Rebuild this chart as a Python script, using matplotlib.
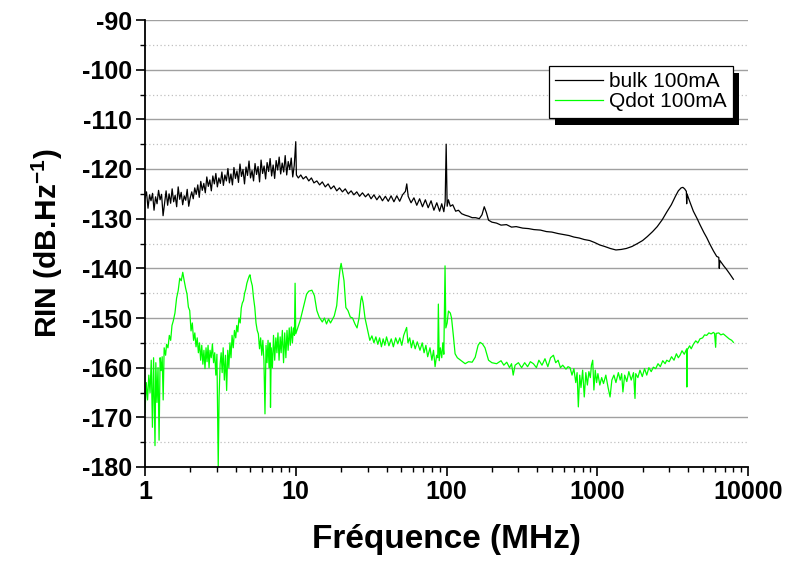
import matplotlib
matplotlib.use("Agg")
import matplotlib.pyplot as plt
from matplotlib.patches import Rectangle
from matplotlib.ticker import FixedLocator, FixedFormatter, MultipleLocator, LogLocator, NullFormatter

plt.rcParams['font.family'] = ['Liberation Sans', 'DejaVu Sans']
plt.rcParams['axes.unicode_minus'] = False
plt.rcParams['mathtext.fontset'] = 'custom'
plt.rcParams['mathtext.rm'] = 'Liberation Sans:bold'
plt.rcParams['mathtext.bf'] = 'Liberation Sans:bold'
plt.rcParams['mathtext.it'] = 'Liberation Sans:bold'
plt.rcParams['mathtext.default'] = 'bf'

# ---------------- data ----------------
bulk_f = [1.000, 1.023, 1.047, 1.072, 1.096, 1.122, 1.148, 1.175, 1.202, 1.230,
          1.259, 1.288, 1.318, 1.349, 1.380, 1.413, 1.445, 1.479, 1.514, 1.549,
          1.585, 1.622, 1.660, 1.698, 1.738, 1.778, 1.820, 1.862, 1.905, 1.950,
          1.995, 2.042, 2.089, 2.138, 2.188, 2.239, 2.291, 2.344, 2.399, 2.455,
          2.512, 2.570, 2.630, 2.692, 2.754, 2.818, 2.884, 2.951, 3.020, 3.090,
          3.162, 3.236, 3.311, 3.388, 3.467, 3.548, 3.631, 3.715, 3.802, 3.890,
          3.981, 4.074, 4.169, 4.266, 4.365, 4.467, 4.571, 4.677, 4.786, 4.898,
          5.012, 5.129, 5.248, 5.370, 5.495, 5.623, 5.754, 5.888, 6.026, 6.166,
          6.310, 6.457, 6.607, 6.761, 6.918, 7.079, 7.244, 7.413, 7.586, 7.762,
          7.943, 8.128, 8.318, 8.511, 8.710, 8.913, 9.120, 9.333, 9.550, 9.772,
          10.0, 10.1, 10.4, 10.8, 11.2, 11.7, 12.2, 12.7, 13.2, 13.8, 14.4, 15.0,
          15.7, 16.4, 17.1, 17.9, 18.7, 19.5, 20.4, 21.3, 22.3, 23.3, 24.3, 25.4, 26.5, 27.7, 29.0,
          30.3, 31.6, 33.0, 34.5, 36.0, 37.6, 39.3, 41.1, 42.9, 44.8, 46.8, 48.9, 51.1, 53.4, 54.5,
          55.7, 58.2, 60.8, 63.5, 66.3, 69.3, 72.4, 75.6, 79.0, 82.5, 86.2, 90.0, 93.0, 96.0, 98.0,
          99.5, 101, 103, 106, 110, 115, 120, 126, 133, 140, 148, 156, 165, 172, 178,
          184, 190, 200, 215, 230, 250, 270, 290, 320, 350, 380, 420, 460, 500, 550,
          600, 650, 700, 760, 820, 890, 960, 1040, 1120, 1220, 1330, 1440, 1560, 1700, 1850,
          2000, 2150, 2330, 2500, 2700, 2900, 3100, 3300, 3450, 3600, 3700, 3800, 3900, 3920, 3940,
          4100, 4340, 4600, 4800, 5100, 5320, 5600, 5900, 6200, 6400, 6450, 6500, 6900, 7200, 7600,
          8000]
bulk_rin = [-125.8, -124.6, -127.9, -125.2, -126.4, -124.9, -128.3, -125.6, -127.0, -124.3,
            -126.2, -125.1, -129.4, -126.8, -124.4, -127.3, -125.0, -126.9, -124.0, -126.6,
            -125.3, -127.6, -123.6, -126.1, -124.7, -127.2, -125.4, -126.3, -124.1, -127.5,
            -125.8, -124.6, -126.0, -123.8, -125.1, -123.2, -125.7, -122.5, -124.3, -122.9,
            -124.8, -121.6, -123.5, -122.2, -124.4, -121.4, -123.0, -120.9, -123.6, -121.8,
            -122.9, -120.6, -123.3, -121.2, -122.4, -119.9, -122.8, -121.0, -123.2, -119.7,
            -121.9, -120.4, -122.7, -119.0, -121.5, -120.1, -123.0, -119.6, -121.3, -118.4,
            -121.8, -120.3, -122.4, -118.9, -121.1, -119.5, -122.6, -118.2, -120.9, -119.4,
            -122.0, -118.7, -120.5, -117.9, -121.4, -119.2, -121.9, -118.3, -120.2, -117.6,
            -121.0, -118.8, -120.6, -117.3, -121.2, -118.5, -120.1, -117.8, -121.6, -119.3,
            -114.5, -121.2, -121.8, -121.2, -122, -121.5, -122.4, -121.8, -122.8, -122.4, -123.2, -122.6,
            -123.6, -123, -124, -123.4, -124.4, -123.8, -124.6, -124, -125, -124.4, -125.2, -124.6, -125.5, -124.8, -125.6,
            -125, -126, -125.2, -126.2, -125.4, -126.4, -125.5, -126.5, -125.4, -126.6, -125.4, -126.5, -125.2, -124.5, -123,
            -125.5, -126.8, -125.8, -127.3, -126, -127.6, -126.2, -127.8, -126.4, -128.3, -126.8, -128.5, -127, -128.6, -126.5,
            -115, -127.5, -126.2, -127.5, -127.2, -128.5, -128.3, -129, -129.3, -129.5, -129.8, -129.8, -130, -129.2, -127.6,
            -128.8, -130.3, -130.7, -130.9, -131.3, -131.2, -131.7, -131.6, -131.9, -132, -132.2, -132.3, -132.6, -132.7, -133,
            -133.2, -133.4, -133.7, -133.9, -134.2, -134.4, -134.8, -135.3, -135.6, -136, -136.3, -136.2, -136, -135.6, -135,
            -134.4, -133.6, -132.6, -131.6, -130.2, -128.6, -127.2, -125.5, -124.4, -123.8, -123.7, -124, -124.5, -127, -125,
            -126.5, -128.5, -130, -131.2, -132.8, -133.8, -135.2, -136.5, -137.6, -137.8, -140, -138.4, -139.5, -140.2, -141.2,
            -142.2]

qdot_f = [1.00, 1.02, 1.04, 1.06, 1.08, 1.10, 1.12, 1.14, 1.165, 1.18, 1.20, 1.22, 1.24, 1.26, 1.28,
          1.30, 1.32, 1.34, 1.37, 1.39, 1.42, 1.45, 1.48, 1.51, 1.54, 1.58, 1.62, 1.66, 1.70, 1.74,
          1.78, 1.82, 1.86, 1.90, 1.94, 1.98, 2.02, 2.06, 2.10, 2.14, 2.18, 2.22, 2.26, 2.30, 2.34,
          2.38, 2.42, 2.46, 2.50, 2.54, 2.58, 2.62, 2.66, 2.70, 2.75, 2.80, 2.85, 2.90, 2.95, 3.00,
          3.06, 3.10, 3.15, 3.20, 3.25, 3.30, 3.36, 3.42, 3.48, 3.54, 3.60, 3.66, 3.72, 3.78, 3.85,
          3.92, 4.00, 4.06, 4.13, 4.20, 4.28, 4.35, 4.42, 4.50, 4.58, 4.66, 4.74, 4.83, 4.92, 4.97,
          5.05, 5.15, 5.25, 5.35, 5.45, 5.55, 5.65, 5.75, 5.85, 5.95, 6.05, 6.15, 6.25, 6.35, 6.45,
          6.55, 6.65, 6.75, 6.80, 6.88, 7.00, 7.12, 7.25, 7.38, 7.50, 7.62, 7.75, 7.88, 8.00, 8.15,
          8.30, 8.45, 8.60, 8.75, 8.90, 9.05, 9.20, 9.35, 9.50, 9.65, 9.80, 9.90, 10.0, 10.3, 10.7,
          11.0, 11.4, 11.8, 12.2, 12.8, 13.3, 13.8, 14.3, 15.0, 15.5, 16.0, 16.5, 17.0, 17.5, 18.0,
          18.7, 19.3, 19.7, 20.0, 20.4, 20.9, 21.5, 22.2, 23.0, 23.8, 24.7, 25.5, 26.3, 27.0, 27.4,
          28.0, 28.8, 29.5, 30.3, 31.0, 32, 33, 34, 35, 36, 37, 38, 39, 40, 41.5,
          43, 44.4, 46, 47.5, 49, 50.5, 52, 54.4, 55.5, 57, 58.5, 60, 62, 64, 66.7,
          69, 71, 73, 75, 77.7, 80, 82, 84, 86, 87.5, 88.3, 89.5, 91, 93, 94.5,
          96, 97.8, 99, 101, 103, 106, 108, 111, 114, 118, 124, 133, 140, 148, 155,
          162, 167, 173, 180, 190, 200, 215, 230, 240, 251, 262, 270, 277, 285, 300,
          315, 330, 345, 360, 377, 395, 410, 430, 450, 470, 490, 512, 530, 550, 570,
          590, 620, 640, 660, 680, 700, 720, 735, 749, 765, 780, 800, 820, 840, 860,
          880, 900, 915, 933, 950, 970, 990, 1010, 1040, 1070, 1100, 1140, 1180, 1216, 1250,
          1290, 1330, 1380, 1420, 1452, 1480, 1520, 1570, 1620, 1680, 1740, 1780, 1800, 1860, 1920,
          1990, 2060, 2130, 2200, 2280, 2355, 2440, 2530, 2620, 2720, 2820, 2890, 3000, 3110, 3230,
          3350, 3450, 3540, 3650, 3780, 3920, 3930, 3940, 4100, 4200, 4340, 4500, 4650, 4800, 5000,
          5150, 5320, 5500, 5700, 5890, 6000, 6100, 6150, 6400, 6600, 6860, 7100, 7300, 7500, 7800,
          8000]
qdot_rin = [-169, -163, -166.5, -161.5, -165, -158.5, -172, -158, -175.7, -159, -167, -160, -174.6, -158, -160.6,
            -157.8, -166.5, -156, -157.5, -155.3, -156, -153.5, -154.5, -151.5, -150.6, -149, -146, -144.5, -142, -142.5,
            -140.8, -142.5, -144, -145.2, -147.8, -148.5, -152.6, -151, -154.5, -153, -155.8, -154, -157, -155, -158.5,
            -155.5, -159.3, -156.5, -160.2, -156, -158.8, -155.5, -160, -156.5, -158, -155.2, -159, -157, -161.5, -157.3,
            -180, -166, -159.3, -157, -161, -156, -162.5, -157.5, -164.6, -156.5, -160, -155, -158, -153.5, -156,
            -152.5, -154, -151.5, -152.8, -150, -151, -148, -147, -146.5, -145, -144.2, -143, -142.2, -141.5, -141.3,
            -142.5, -143.5, -146, -147.9, -151, -152.5, -153.2, -156.2, -154, -157.5, -154.5, -158.5, -169.3, -155.5, -159,
            -154.5, -160, -155, -168, -156, -160, -153.5, -158.5, -154, -157, -153, -158.5, -153.8, -157, -152.5,
            -159, -153, -158, -152.5, -156.5, -152, -155.5, -151.8, -155, -152, -153.5, -143, -153.2, -152, -150.5,
            -149, -147, -145.2, -144.6, -144.4, -145.5, -148.5, -149.8, -150.8, -150, -151.2, -150.2, -151, -150.3, -149.6,
            -147.5, -142.5, -140, -139, -140.5, -142.5, -147.9, -148.5, -149.8, -150, -151.2, -152, -150, -146.5, -145.6,
            -147, -150, -151.5, -153.2, -154.5, -153.6, -155, -153.8, -155.3, -154, -155.8, -154.2, -155.5, -153.8, -155.6,
            -154.2, -155.8, -154, -155.2, -154, -155.5, -153.5, -151.9, -155, -154, -156, -154.5, -156.2, -154.8, -156.5,
            -155, -157, -155.5, -157.8, -156, -158.5, -156.5, -159.8, -157.5, -158, -147.2, -158.6, -156, -158, -155,
            -157.3, -139.5, -152, -151, -148.6, -149, -150, -153.5, -157.2, -158, -158.5, -159.2, -158.8, -158.9, -157.9,
            -155.5, -154.9, -155.2, -156, -158.5, -159, -159.2, -158.6, -159.5, -158.9, -160, -159.2, -161.5, -159.5, -159,
            -160, -159, -159.8, -158.8, -159.2, -160, -158.5, -159.5, -158.2, -159.8, -158, -157.5, -159, -158.5, -160,
            -159.5, -160.3, -159.8, -160, -161.5, -160.2, -163, -161, -167.9, -161.5, -164, -160.5, -165.9, -161, -163.5,
            -160.8, -162, -159.5, -158.5, -164.5, -160.5, -163, -161.2, -163.5, -162, -163.2, -161.5, -164, -165.9, -162.5,
            -161.5, -163, -161, -162.5, -161.2, -164.9, -161.5, -162.8, -160.8, -162.5, -161, -166.2, -161.2, -162, -160.5,
            -161.8, -160.2, -161.5, -160, -160.8, -159.9, -160.2, -159.2, -159.8, -158.6, -159.2, -158.5, -158.8, -157.8, -158.5,
            -157.2, -158, -157.5, -156.6, -157.3, -156.2, -163.9, -156.5, -155.6, -156.2, -155.3, -154.6, -155, -154.2, -154,
            -153.4, -153.5, -153, -153.2, -152.9, -153.1, -155.9, -153.1, -153, -153.4, -153.2, -153.6, -153.9, -154.2, -154.5,
            -154.9]

series_labels = ["bulk 100mA", "Qdot 100mA"]
x_ticks = [1, 10, 100, 1000, 10000]
x_ticklabels = ["1", "10", "100", "1000", "10000"]
y_ticks = [-180, -170, -160, -150, -140, -130, -120, -110, -100, -90]

# ---------------- figure ----------------
fig = plt.figure(figsize=(7.85, 5.64), dpi=100)
ax = fig.add_axes([145 / 785, 1 - 467 / 564, (748 - 145) / 785, (467 - 20) / 564])

# horizontal grid: solid at majors, dotted at minors
for v in range(-175, -89, 5):
    if v % 10 == 0:
        ax.axhline(v, color='#a0a0a0', lw=1.0, zorder=0)
    else:
        ax.axhline(v, color='#c0c0c0', lw=0.9, ls=(0, (1, 2)), zorder=0)

ax.plot(bulk_f, bulk_rin, color='black', lw=0.9, label=series_labels[0], zorder=3)
ax.plot(qdot_f, qdot_rin, color='#00ff00', lw=0.9, label=series_labels[1], zorder=2)

ax.set_xscale('log')
ax.set_xlim(1, 10000)
ax.set_ylim(-180, -90)

ax.xaxis.set_major_locator(FixedLocator(x_ticks))
ax.xaxis.set_major_formatter(FixedFormatter(x_ticklabels))
ax.xaxis.set_minor_locator(LogLocator(base=10, subs=range(2, 10)))
ax.xaxis.set_minor_formatter(NullFormatter())
ax.yaxis.set_major_locator(FixedLocator(y_ticks))
ax.yaxis.set_minor_locator(MultipleLocator(5))

for s in ('top', 'right'):
    ax.spines[s].set_visible(False)
for s in ('left', 'bottom'):
    ax.spines[s].set_linewidth(1.3)
    ax.spines[s].set_color('black')

ax.tick_params(which='major', direction='out', length=6.5, width=1.2, labelsize=18, pad=3)
ax.tick_params(which='minor', direction='out', length=3.5, width=1.0)
for lab in ax.get_xticklabels() + ax.get_yticklabels():
    lab.set_fontweight('bold')

ax.set_xlabel("Fréquence (MHz)", fontsize=24, fontweight='bold', labelpad=14)
ax.set_ylabel(r"RIN (dB.Hz$^{-1}$)", fontsize=21.5, fontweight='bold', labelpad=12)

leg = ax.legend(loc='upper left', bbox_to_anchor=(549 / 785, 1 - 66 / 564),
                bbox_transform=fig.transFigure, frameon=True, fancybox=False,
                edgecolor='black', framealpha=1, fontsize=15, handlelength=2.3,
                handletextpad=0.3, borderpad=0.3, labelspacing=0.05, borderaxespad=0)
leg.get_frame().set_linewidth(0.9)
leg.set_zorder(6)

fig.canvas.draw()
bb = leg.get_window_extent()
inv = fig.transFigure.inverted()
(x0, y0), (x1, y1) = inv.transform([[bb.x0 + 6, bb.y0 - 7], [bb.x1 + 6, bb.y1 - 7]])
shadow = Rectangle((x0, y0), x1 - x0, y1 - y0, transform=fig.transFigure,
                   facecolor='black', edgecolor='none', zorder=5)
ax.add_artist(shadow)
shadow.set_clip_on(False)

fig.savefig("out.png", dpi=100)
